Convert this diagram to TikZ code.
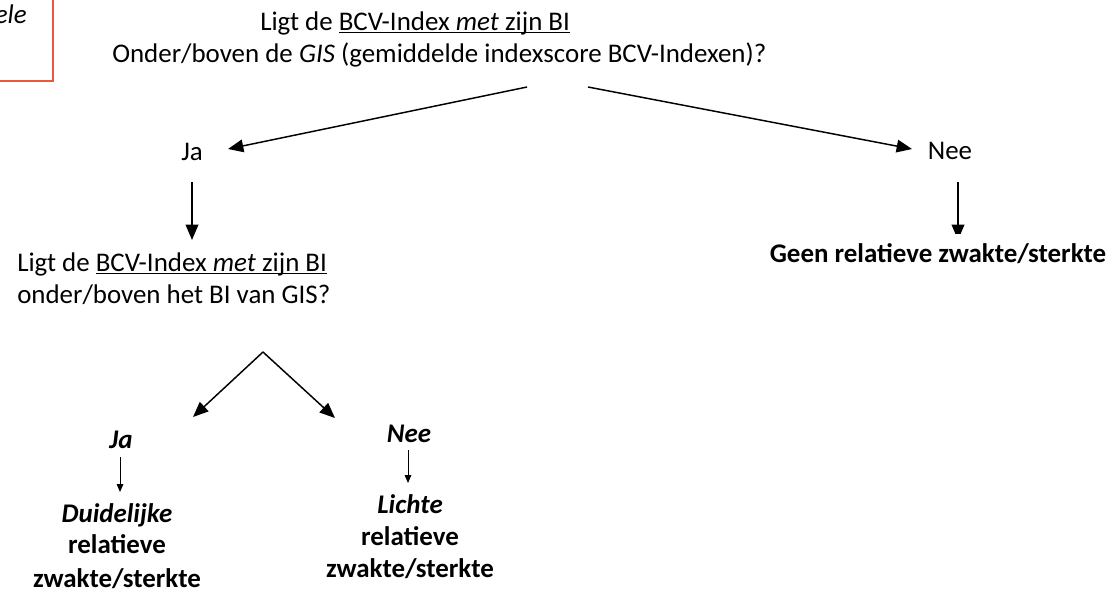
\documentclass[tikz,border=0pt]{standalone}
\usepackage{fontspec}
\setmainfont{Carlito}
\usetikzlibrary{arrows.meta}

\definecolor{kaderRood}{RGB}{235,87,60}

\newcommand{\ulin}[1]{\underline{\smash{#1}\vphantom{a}}}

\begin{document}
\begin{tikzpicture}[x = 0.75pt, y = -0.75pt,
		every node/.style = {inner sep = 0pt, font = \fontsize{20.2}{24}\selectfont},
		bigArrow/.style = {-{Triangle[length = 11.5pt, width = 9.5pt]}, line width = 1.1pt},
		smallArrow/.style = {-{Triangle[length = 6pt, width = 5pt]}, line width = 0.7pt}]
	\useasboundingbox (0,0) rectangle (1111,594);

	\def\xJa{192};
	\def\xNee{958};
	\def\xJaKlein{120};
	\def\xNeeKlein{408};

	\newcommand{\drawStep}[3]
	{
		\draw [#1] (#2) -- (#3)
	}

	% kader linksboven
	\begin{scope}
		\draw [kaderRood, line width = 0.8pt] (-10,-10) rectangle (53,81);
		\node [anchor = base east] (opmerking) at (27,23) {\textit{ele}};
	\end{scope}

	% eerste vraag
	\begin{scope}
		\node [anchor = base west] (vraagEen) at (260,30) {Ligt de \ulin{BCV-Index \textit{met} zijn BI}};
		\node [anchor = base west] (vraagEenB) at (112,62) {Onder/boven de \textit{GIS} (gemiddelde indexscore BCV-Indexen)?};
		\node [anchor = base] (ja) at (\xJa,160) {Ja};
		\node [anchor = base] (nee) at (950,159) {Nee};
		\node [anchor = base] (geen) at (938,262) {\textbf{Geen relatieve zwakte/sterkte}};
	\end{scope}

	% tweede vraag
	\begin{scope}
		\node [anchor = base west] (vraagTwee) at (17,271) {Ligt de \ulin{BCV-Index \textit{met} zijn BI}};
		\node [anchor = base west] (vraagTweeB) at (17,303) {onder/boven het BI van GIS?};

		\node [anchor = base] (jaTwee) at (121,448) {\textbf{\textit{Ja}}};
		\node [anchor = base] (duidelijk) at (117,522) {\textbf{\textit{Duidelijke}}};
		\node [anchor = base] (duidelijkB) at (117,553) {\textbf{relatieve}};
		\node [anchor = base] (duidelijkC) at (117,587) {\textbf{zwakte/sterkte}};

		\node [anchor = base] (neeTwee) at (409,442) {\textbf{\textit{Nee}}};
		\node [anchor = base] (licht) at (410,513) {\textbf{\textit{Lichte}}};
		\node [anchor = base] (lichtB) at (410,545) {\textbf{relatieve}};
		\node [anchor = base] (lichtC) at (410,577) {\textbf{zwakte/sterkte}};
	\end{scope}

	% eindpunten van de pijlen
	\coordinate (splitLinks) at (527,87);
	\coordinate (splitRechts) at (588,87);
	\coordinate (tipJa) at (228,149);
	\coordinate (tipNee) at (912,149);
	\coordinate (jaOnder) at (\xJa,182);
	\coordinate (jaEind) at (\xJa,240);
	\coordinate (neeOnder) at (\xNee,182);
	\coordinate (neeEind) at (\xNee,240);
	\coordinate (top) at (263,352);
	\coordinate (tipJaTwee) at (193,417);
	\coordinate (tipNeeTwee) at (335,418);
	\coordinate (jaTweeOnder) at (\xJaKlein,457);
	\coordinate (jaTweeEind) at (\xJaKlein,492);
	\coordinate (neeTweeOnder) at (\xNeeKlein,450);
	\coordinate (neeTweeEind) at (\xNeeKlein,483);

	\begin{scope}
		\drawStep{bigArrow}{splitLinks}{tipJa};
		\drawStep{bigArrow}{splitRechts}{tipNee};
		\drawStep{bigArrow}{jaOnder}{jaEind};
		\drawStep{bigArrow}{top}{tipJaTwee};
		\drawStep{bigArrow}{top}{tipNeeTwee};
		\drawStep{smallArrow}{jaTweeOnder}{jaTweeEind};
		\drawStep{smallArrow}{neeTweeOnder}{neeTweeEind};
	\end{scope}

	% afgesneden pijl onder Nee
	\begin{scope}
		\clip (900,170) rectangle (1000,233);
		\drawStep{bigArrow}{neeOnder}{neeEind};
	\end{scope}
\end{tikzpicture}
\end{document}
